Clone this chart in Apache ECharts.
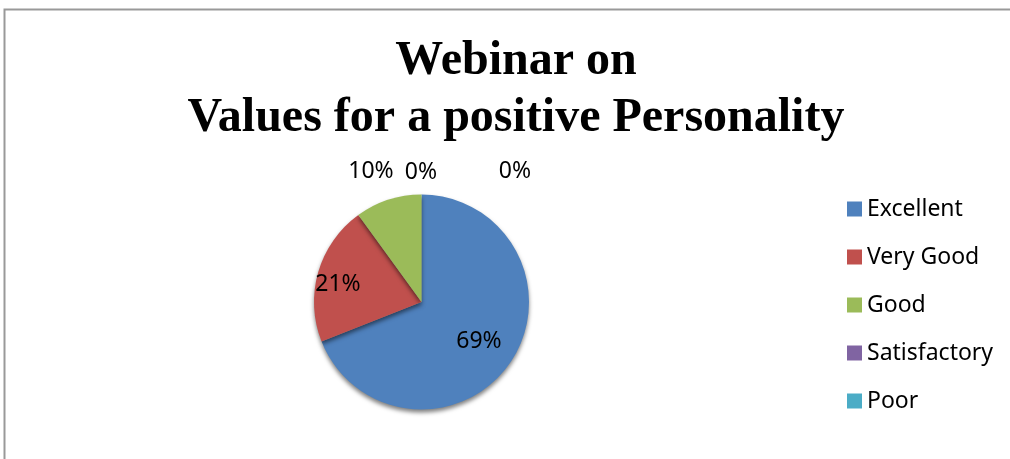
<!DOCTYPE html>
<html>
<head>
<meta charset="utf-8">
<script src="https://cdn.jsdelivr.net/npm/echarts@6/dist/echarts.min.js"></script>
<style>
html,body{margin:0;padding:0;background:#fff;}
#chart{width:1010px;height:459px;}
</style>
</head>
<body>
<div id="chart"></div>
<script>
const titleLines = ['Webinar on', 'Values for a positive Personality'];
const categories = ['Excellent', 'Very Good', 'Good', 'Satisfactory', 'Poor'];
const values = [69, 21, 10, 0, 0];
const colors = ['#4F81BD', '#C0504D', '#9BBB59', '#8064A2', '#4BACC6'];
// label anchor positions (styling only)
const labelPos = [[479, 341], [338, 284], [371, 171], [421, 172], [515, 171]];

const chart = echarts.init(document.getElementById('chart'));
chart.setOption({
  backgroundColor: '#fff',
  animation: false,
  graphic: [{
    type: 'rect',
    shape: { x: 4.5, y: 9.5, width: 1100, height: 600 },
    style: { fill: 'none', stroke: '#999', lineWidth: 2 },
    silent: true
  }],
  title: {
    text: titleLines.join('\n'),
    left: 511,
    textAlign: 'center',
    top: 28,
    textStyle: {
      fontFamily: 'Liberation Serif',
      fontWeight: 'bold',
      fontSize: 48,
      lineHeight: 57,
      color: '#000'
    }
  },
  legend: {
    orient: 'vertical',
    left: 847,
    top: 197,
    padding: 0,
    icon: 'rect',
    itemWidth: 15,
    itemHeight: 15,
    itemGap: 24,
    data: categories,
    textStyle: { fontFamily: 'Noto Sans', fontSize: 23, color: '#000', lineHeight: 24 }
  },
  series: [{
    type: 'pie',
    center: [421.5, 302],
    radius: 107.5,
    startAngle: 90,
    clockwise: true,
    avoidLabelOverlap: false,
    data: categories.map((c, i) => ({ name: c, value: values[i], itemStyle: { color: colors[i] } })),
    itemStyle: {
      shadowColor: 'rgba(0,0,0,0.5)',
      shadowBlur: 4,
      shadowOffsetY: 3
    },
    label: {
      show: true,
      position: 'inside',
      formatter: '{d}%',
      fontFamily: 'Noto Sans',
      fontSize: 23,
      color: '#000'
    },
    labelLine: { show: false },
    labelLayout: function (params) {
      const p = labelPos[params.dataIndex];
      return { x: p[0], y: p[1], align: 'center', verticalAlign: 'middle' };
    }
  }]
});
</script>
</body>
</html>
